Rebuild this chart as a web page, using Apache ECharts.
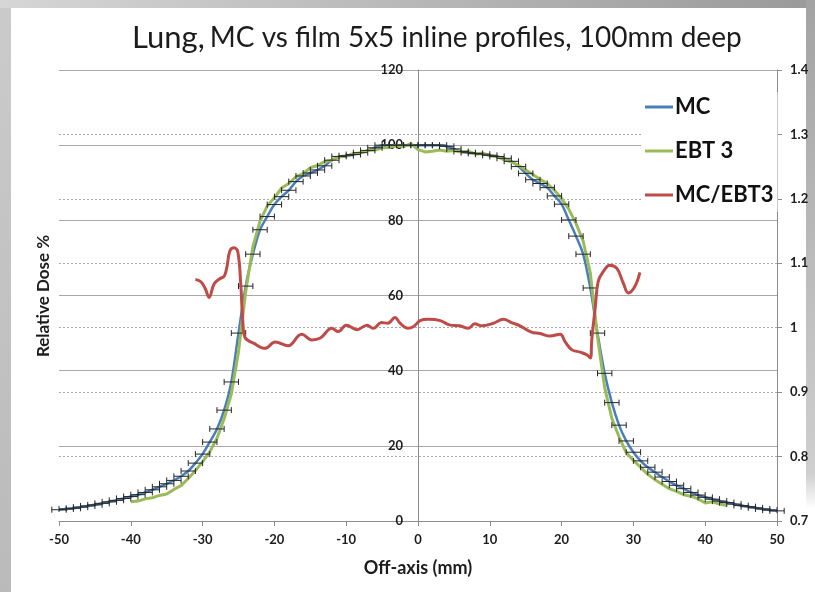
<!DOCTYPE html>
<html>
<head>
<meta charset="utf-8">
<title>Lung, MC vs film 5x5 inline profiles</title>
<script src="https://cdn.jsdelivr.net/npm/echarts@6/dist/echarts.min.js"></script>
<style>
  html, body { margin: 0; padding: 0; }
  body { width: 815px; height: 592px; position: relative; overflow: hidden; background: #fff; }
  .frame { position: absolute; }
  #frameLeft { left: 0; top: 0; width: 11px; height: 592px; background: linear-gradient(#cbcbcb, #bababa); }
  #frameTop { left: 0; top: 0; width: 815px; height: 8px; background: linear-gradient(90deg, #d6d6d6, #9a9a9a); }
  #frameRight { right: 0; top: 0; width: 9px; height: 592px; background: linear-gradient(#a3a3a3, #cfcfcf 80%, #ffffff 86%); }
  #chart { position: absolute; left: 0; top: 0; width: 815px; height: 592px; }
</style>
</head>
<body>
<div class="frame" id="frameLeft"></div>
<div class="frame" id="frameTop"></div>
<div class="frame" id="frameRight"></div>
<div id="chart"></div>
<script>
// off-axis positions (mm) of the MC points
const mcPos = [
  -50, -49, -48, -47, -46, -45, -44, -43, -42, -41,
  -40, -39, -38, -37, -36, -35, -34, -33, -32, -31,
  -30, -29, -28, -27, -26, -25, -24, -23, -22, -21,
  -20, -19, -18, -17, -16, -15, -14, -13, -12, -11,
  -10, -9, -8, -7, -6, -5, -4, -3, -2, -1,
  0, 1, 2, 3, 4, 5, 6, 7, 8, 9,
  10, 11, 12, 13, 14, 15, 16, 17, 18, 19,
  20, 21, 22, 23, 24, 25, 26, 27, 28, 29,
  30, 31, 32, 33, 34, 35, 36, 37, 38, 39,
  40, 41, 42, 43, 44, 45, 46, 47, 48, 49, 50
]
// MC relative dose %
const mcDose = [
  3.0, 3.2, 3.4, 3.7, 4.0, 4.3, 4.7, 5.1, 5.5, 6.0,
  6.5, 7.0, 7.6, 8.3, 9.1, 9.9, 10.8, 11.9, 13.3, 15.4,
  17.8, 21.0, 24.5, 29.5, 37.0, 50.0, 62.5, 71.0, 77.5, 81.0,
  84.2, 86.3, 88.0, 90.3, 91.8, 92.6, 93.4, 94.5, 96.0, 97.0,
  97.2, 97.5, 98.0, 98.6, 99.3, 100, 100, 100, 100, 100,
  100, 100, 100, 100, 99.7, 99.0, 98.3, 98.0, 97.8, 97.6,
  97.3, 97.0, 96.5, 95.7, 94.3, 92.5, 90.8, 89.8, 88.7, 86.5,
  84.3, 80.1, 75.8, 71.0, 62.0, 50.0, 39.3, 31.5, 25.5, 21.3,
  18.3, 16.0, 14.3, 13.0, 11.7, 10.5, 9.5, 8.6, 7.6, 6.9,
  6.3, 5.8, 5.3, 4.9, 4.5, 4.1, 3.8, 3.5, 3.2, 2.9, 2.7
]
// half width of the horizontal error bars (mm)
const mcErr = 1

// film (EBT 3) positions and dose %
const filmPos = [
  -40, -39, -38, -37, -36, -35, -34, -33, -32, -31,
  -30, -29, -28, -27, -26, -25, -24, -23, -22, -21,
  -20, -19, -18, -17, -16, -15, -14, -13, -12, -11,
  -10, -9, -8, -7, -6, -5, -4, -3, -2, -1,
  0, 1, 2, 3, 4, 5, 6, 7, 8, 9,
  10, 11, 12, 13, 14, 15, 16, 17, 18, 19,
  20, 21, 22, 23, 24, 25, 26, 27, 28, 29,
  30, 31, 32, 33, 34, 35, 36, 37, 38, 39,
  40, 41, 42, 43
]
const filmDose = [
  5.1, 5.3, 5.9, 6.2, 6.8, 7.2, 8.4, 9.4, 11.3, 13.4,
  15.8, 18.4, 22.0, 27.2, 33.8, 45.0, 61.0, 73.0, 79.8, 83.8,
  86.0, 88.6, 89.8, 91.6, 92.4, 94.0, 94.6, 95.6, 96.0, 96.9,
  97.0, 97.8, 97.9, 98.6, 98.7, 99.3, 99.4, 99.9, 99.6, 100.4,
  98.8, 98.2, 98.4, 98.7, 98.4, 98.6, 98.2, 98.4, 97.6, 97.9,
  97.2, 97.0, 96.1, 95.6, 94.6, 93.4, 92.2, 90.9, 89.8, 88.0,
  85.8, 83.0, 79.2, 74.5, 66.0, 49.0, 35.5, 27.3, 22.4, 18.2,
  16.1, 14.3, 12.4, 11.0, 9.8, 8.6, 7.9, 7.0, 6.6, 5.9,
  4.8, 5.1, 4.5, 4.1
]

// MC / EBT3 ratio (right axis)
const ratioPos = [
  -31.0, -30.2, -29.6, -29.1, -28.4, -27.6, -27.0, -26.6, -26.2, -25.6,
  -25.1, -24.7, -24.4, -24.1, -22.9, -21.3, -19.9, -18.1, -16.2, -14.8,
  -13.6, -12.0, -11.1, -10.0, -8.5, -7.1, -6.2, -5.1, -4.2, -3.2,
  -2.5, -1.4, -0.6, 0.3, 1.4, 3.1, 4.5, 5.8, 7.0, 7.9,
  8.9, 10.5, 11.9, 13.0, 14.2, 15.8, 17.0, 18.4, 19.8, 20.5,
  21.4, 22.6, 23.5, 24.0, 24.2, 24.7, 25.1, 25.8, 26.7, 27.7,
  28.6, 29.3, 30.2, 30.9
]
const ratioVal = [
  1.075, 1.071, 1.060, 1.047, 1.068, 1.076, 1.080, 1.095, 1.119, 1.124,
  1.118, 1.070, 1.010, 0.985, 0.976, 0.968, 0.978, 0.972, 0.990, 0.981,
  0.984, 0.999, 0.994, 1.004, 0.997, 1.004, 0.999, 1.008, 1.007, 1.016,
  1.007, 0.999, 1.002, 1.011, 1.013, 1.011, 1.004, 1.003, 0.999, 1.006,
  1.003, 1.007, 1.013, 1.008, 1.003, 0.993, 0.991, 0.987, 0.990, 0.978,
  0.966, 0.962, 0.958, 0.953, 0.981, 1.033, 1.072, 1.087, 1.097, 1.092,
  1.069, 1.054, 1.064, 1.086
]

const leftTicks = { min: 0, max: 120, step: 20 }
const rightTicks = { min: 0.7, max: 1.4, step: 0.1 }

const FONT = 'Lato, "Open Sans", sans-serif'
const AXIS_GREY = '#8c8c8c'
const GRID_GREY = '#a8a8a8'
const TEXT = '#1c1c1c'

const GRID = { left: 59, right: 38, top: 70, bottom: 71 }
// the dose axis sits in the middle of the plot, on x = 0
const doseAxisOffset = -(815 - GRID.left - GRID.right) / 2

const zip = (xs, ys) => xs.map((x, i) => [x, ys[i]])

const mcData = zip(mcPos, mcDose)
const filmData = zip(filmPos, filmDose)
const ratioData = zip(ratioPos, ratioVal)

const chart = echarts.init(document.getElementById('chart'))

const renderErrorBar = (params, api) => {
  const x = api.value(0)
  const y = api.value(1)
  const lo = api.coord([x - mcErr, y])
  const hi = api.coord([x + mcErr, y])
  const cap = 3
  const style = { stroke: '#262626', lineWidth: 1 }

  return {
    type: 'group',
    children: [
      { type: 'line', shape: { x1: lo[0], y1: lo[1], x2: hi[0], y2: hi[1] }, style },
      { type: 'line', shape: { x1: lo[0], y1: lo[1] - cap, x2: lo[0], y2: lo[1] + cap }, style },
      { type: 'line', shape: { x1: hi[0], y1: hi[1] - cap, x2: hi[0], y2: hi[1] + cap }, style },
    ],
  }
}

const tickLabel = { fontSize: 13, fontWeight: 'bold', fontFamily: FONT, color: TEXT }

chart.setOption({
  animation: false,
  title: {
    text: '{a|Lung,} {b|MC vs film 5x5 inline profiles, 100mm deep}',
    left: 127,
    top: 17,
    textStyle: {
      rich: {
        a: { fontSize: 31, fontWeight: 'normal', fontFamily: FONT, color: TEXT },
        b: { fontSize: 28, fontWeight: 'normal', fontFamily: FONT, color: TEXT },
      },
    },
  },
  legend: {
    data: ['MC', 'EBT 3', 'MC/EBT3'],
    orient: 'vertical',
    left: 641,
    top: 92,
    icon: 'rect',
    itemWidth: 28,
    itemHeight: 3,
    itemGap: 22,
    padding: [4, 4, 6, 4],
    backgroundColor: '#fff',
    textStyle: { fontSize: 22, fontWeight: 'bold', fontFamily: FONT, color: '#111', padding: [0, 0, 0, -3] },
  },
  grid: GRID,
  xAxis: {
    type: 'value',
    min: -50,
    max: 50,
    interval: 10,
    axisLine: { lineStyle: { color: AXIS_GREY } },
    axisTick: { length: 5, lineStyle: { color: AXIS_GREY } },
    splitLine: { show: false },
    axisLabel: { margin: 12, ...tickLabel },
    name: 'Off-axis (mm)',
    nameLocation: 'middle',
    nameGap: 38,
    nameTextStyle: { fontSize: 18, fontWeight: 'bold', fontFamily: FONT, color: TEXT },
  },
  yAxis: [
    {
      type: 'value',
      position: 'left',
      offset: doseAxisOffset,
      min: leftTicks.min,
      max: leftTicks.max,
      interval: leftTicks.step,
      axisLine: { show: true, onZero: false, lineStyle: { color: AXIS_GREY } },
      axisTick: { show: false },
      axisLabel: { margin: 15, ...tickLabel },
      splitLine: { show: true, lineStyle: { color: GRID_GREY, width: 1 } },
    },
    {
      type: 'value',
      position: 'right',
      min: rightTicks.min,
      max: rightTicks.max,
      interval: rightTicks.step,
      axisLine: { show: true, onZero: false, lineStyle: { color: AXIS_GREY } },
      axisTick: { show: true, length: 5, lineStyle: { color: AXIS_GREY } },
      axisLabel: { margin: 13, ...tickLabel },
      splitLine: { show: true, lineStyle: { color: GRID_GREY, type: [2, 2], width: 1 } },
    },
  ],
  graphic: [
    {
      type: 'text',
      x: 44,
      y: 296,
      rotation: Math.PI / 2,
      style: {
        text: 'Relative Dose %',
        font: 'bold 17px ' + FONT,
        fill: TEXT,
        textAlign: 'center',
        textVerticalAlign: 'middle',
      },
    },
  ],
  series: [
    {
      name: 'MC',
      type: 'line',
      data: mcData,
      showSymbol: false,
      smooth: 0.3,
      color: '#4a7ebb',
      lineStyle: { width: 2.5 },
      z: 2,
    },
    {
      name: 'EBT 3',
      type: 'line',
      data: filmData,
      showSymbol: false,
      color: '#9bbb59',
      lineStyle: { width: 3 },
      z: 3,
    },
    {
      name: 'MC error',
      type: 'custom',
      data: mcData,
      renderItem: renderErrorBar,
      z: 4,
    },
    {
      name: 'MC/EBT3',
      type: 'line',
      yAxisIndex: 1,
      data: ratioData,
      showSymbol: false,
      smooth: 0.4,
      color: '#be4b48',
      lineStyle: { width: 3 },
      z: 5,
    },
  ],
})
</script>
</body>
</html>
